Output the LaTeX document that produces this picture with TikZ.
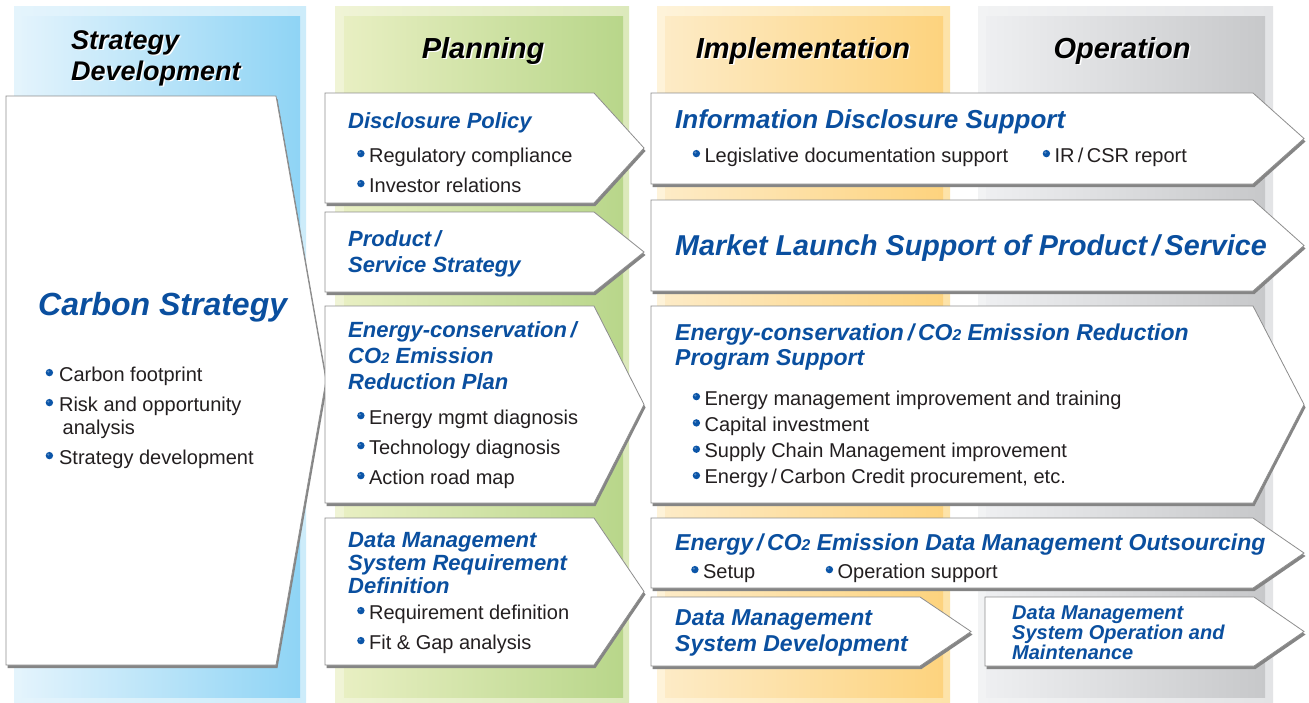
\documentclass[tikz,border=0pt]{standalone}
\usepackage{fontspec}
\setmainfont{Liberation Sans}

\definecolor{ttlblue}{HTML}{0A4F9F}
\definecolor{bodytxt}{HTML}{231F20}
\definecolor{edgegray}{HTML}{8E8E8E}
\definecolor{shadowgray}{HTML}{858585}
\definecolor{bulblue}{HTML}{0B55A8}
% column tints: outer frame (A,B) and inner band (C,D), left to right
\definecolor{blueA}{HTML}{E4F4FC}\definecolor{blueB}{HTML}{CDECFA}
\definecolor{blueC}{HTML}{E2F3FC}\definecolor{blueD}{HTML}{8FD4F5}
\definecolor{grnA}{HTML}{F0F4D6}\definecolor{grnB}{HTML}{DCE9BB}
\definecolor{grnC}{HTML}{E8EFC2}\definecolor{grnD}{HTML}{B8D68A}
\definecolor{orgA}{HTML}{FEF3DA}\definecolor{orgB}{HTML}{FDE3A8}
\definecolor{orgC}{HTML}{FDEBC6}\definecolor{orgD}{HTML}{FDD37E}
\definecolor{gryA}{HTML}{F2F3F4}\definecolor{gryB}{HTML}{E3E4E6}
\definecolor{gryC}{HTML}{EEEFF1}\definecolor{gryD}{HTML}{C7C8CA}

% small blue dot with a soft highlight, used as list bullet
\newcommand\bul{\tikz[baseline={(0pt,-0.42em)}]{\fill[bulblue] (0pt,0pt) circle (3.7pt);
  \fill[white, opacity=0.3] (-1.1pt,1.1pt) circle (1.2pt);}\hspace{4.5pt}}
% stacked lines, baseline of the first line is the box baseline
\newcommand\stk[2]{\vtop{\baselineskip=#1\lineskiplimit=-100pt\halign{##\hfil\cr#2\crcr}}}
\newcommand\cotwo{CO\raisebox{-0.04em}{\scalebox{0.68}{2}}}

% pentagon arrow box: left, top, shoulder x, tip x, bottom
\newcommand\arrowbox[5]{%
  \fill[shadowgray, shift={(1.5,3)}] (#1,#2) -- (#3,#2) -- (#4,{(#2+#5)/2}) -- (#3,#5) -- (#1,#5) -- cycle;
  \filldraw[fill=white, draw=edgegray, line width=0.8pt] (#1,#2) -- (#3,#2) -- (#4,{(#2+#5)/2}) -- (#3,#5) -- (#1,#5) -- cycle;}

\begin{document}
\begin{tikzpicture}[x=1pt,y=-1pt,
  hdr/.style={inner sep=0pt, anchor=base, font=\fontsize{29}{31}\selectfont\bfseries\itshape},
  ttl/.style={inner sep=0pt, anchor=base west, text=ttlblue, font=\fontsize{22}{26}\selectfont\bfseries\itshape},
  body/.style={inner sep=0pt, anchor=base west, text=bodytxt, font=\fontsize{20}{30}\selectfont}]
\useasboundingbox (0,0) rectangle (1309,702);
\fill[white] (0,0) rectangle (1309,702);

% ---- phase columns ----
\shade[left color=blueA, right color=blueB] (14,6) rectangle (306,702);
\shade[left color=blueC, right color=blueD] (22,16) rectangle (300,697);
\shade[left color=grnA, right color=grnB] (335,6) rectangle (629,702);
\shade[left color=grnC, right color=grnD] (344,16) rectangle (623,697);
\shade[left color=orgA, right color=orgB] (657,6) rectangle (950,702);
\shade[left color=orgC, right color=orgD] (665,16) rectangle (943,697);
\shade[left color=gryA, right color=gryB] (978,6) rectangle (1273,702);
\shade[left color=gryC, right color=gryD] (986,16) rectangle (1265,697);

% ---- column headings (white offset copy gives the embossed look) ----
\node[hdr, white, anchor=base west, font=\fontsize{27}{31}\selectfont\bfseries\itshape] (hsdw) at (72.5,50.5) {\stk{31pt}{Strategy\cr Development}};
\node[hdr, anchor=base west, font=\fontsize{27}{31}\selectfont\bfseries\itshape] (hsd) at (71,49) {\stk{31pt}{Strategy\cr Development}};
\node[hdr, white] (hplw) at (484.5,59.5) {Planning};
\node[hdr] (hpl) at (483,58) {Planning};
\node[hdr, white] (himw) at (804.5,59.5) {Implementation};
\node[hdr] (him) at (803,58) {Implementation};
\node[hdr, white] (hopw) at (1123.5,59.5) {Operation};
\node[hdr] (hop) at (1122,58) {Operation};

% ---- arrow boxes ----
\arrowbox{6}{96}{276}{326}{665}
\arrowbox{325}{93}{594}{644}{203}
\arrowbox{325}{212}{594}{644}{292}
\arrowbox{325}{306}{594}{644}{503}
\arrowbox{325}{518}{594}{644}{665}
\arrowbox{651}{93}{1253}{1304}{184}
\arrowbox{651}{200}{1253}{1304}{291}
\arrowbox{651}{306}{1253}{1304}{503}
\arrowbox{651}{518}{1253}{1304}{588}
\arrowbox{651}{597}{920}{971}{666}
\arrowbox{985}{597}{1254}{1304}{666}

% ---- strategy development ----
\node[ttl, font=\fontsize{32}{36}\selectfont\bfseries\itshape] (cs) at (38,315) {Carbon Strategy};
\node[body] (csb) at (45.5,381) {\stk{30pt}{\bul\hspace{1.5pt}Carbon footprint\cr
  \bul\hspace{1.5pt}Risk and opportunity\cr\noalign{\vskip-7pt}
  \hspace{17pt}analysis\cr
  \bul\hspace{1.5pt}Strategy development}};

% ---- planning ----
\node[ttl] (pdp) at (348,128) {Disclosure Policy};
\node[body] (pdpb) at (357,162) {\stk{30pt}{\bul Regulatory compliance\cr \bul Investor relations}};
\node[ttl] (pps) at (348,246) {\stk{26pt}{Product\,/\cr Service Strategy}};
\node[ttl] (pec) at (348,337) {\stk{26pt}{Energy-conservation\,/\cr \cotwo\ Emission\cr Reduction Plan}};
\node[body] (pecb) at (357,424) {\stk{30pt}{\bul Energy mgmt diagnosis\cr \bul Technology diagnosis\cr \bul Action road map}};
\node[ttl] (pdm) at (348,547) {\stk{23pt}{Data Management\cr System Requirement\cr Definition}};
\node[body] (pdmb) at (357,619) {\stk{30pt}{\bul Requirement definition\cr \bul Fit \& Gap analysis}};

% ---- implementation / operation ----
\node[ttl, font=\fontsize{26}{30}\selectfont\bfseries\itshape] (ids) at (675,128) {Information Disclosure Support};
\node[body] (idsb1) at (692.5,162) {\bul Legislative documentation support};
\node[body] (idsb2) at (1042.5,162) {\bul IR\,/\,CSR report};
\node[ttl, font=\fontsize{28.7}{33}\selectfont\bfseries\itshape] (mls) at (675,255) {Market Launch Support of Product\,/\,Service};
\node[ttl, font=\fontsize{23}{26}\selectfont\bfseries\itshape] (ecp) at (675,340) {\stk{25.5pt}{Energy-conservation\,/\,\cotwo\ Emission Reduction\cr Program Support}};
\node[body] (ecpb) at (692.5,405) {\stk{26.3pt}{\bul Energy management improvement and training\cr
  \bul Capital investment\cr \bul Supply Chain Management improvement\cr \bul Energy\,/\,Carbon Credit procurement, etc.}};
\node[ttl, font=\fontsize{23}{26}\selectfont\bfseries\itshape] (edo) at (675,550) {Energy\,/\,\cotwo\ Emission Data Management Outsourcing};
\node[body] (edob1) at (691,578) {\bul Setup};
\node[body] (edob2) at (825.5,578) {\bul Operation support};
\node[ttl, font=\fontsize{23}{26}\selectfont\bfseries\itshape] (dsd) at (675,625) {\stk{26pt}{Data Management\cr System Development}};
\node[ttl, font=\fontsize{20}{20}\selectfont\bfseries\itshape] (dso) at (1012,619) {\stk{20pt}{Data Management\cr System Operation and\cr Maintenance}};
\end{tikzpicture}
\end{document}
